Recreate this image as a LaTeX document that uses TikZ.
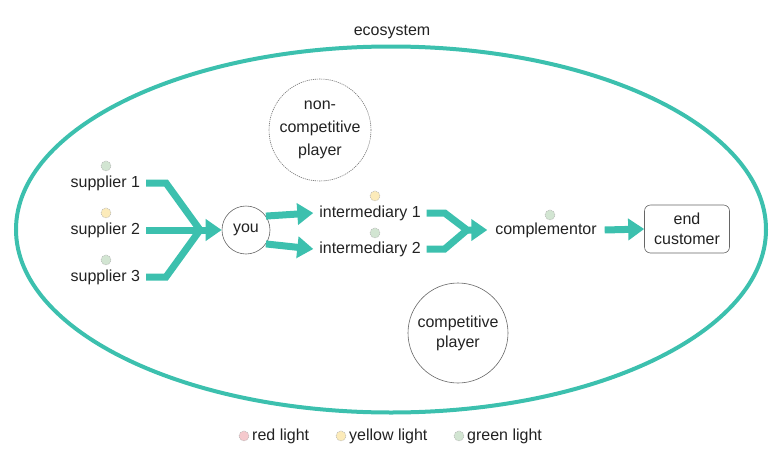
\documentclass[tikz,border=0pt]{standalone}
\usepackage{fontspec}
\setmainfont{Liberation Sans}
\usepackage{xcolor}
\definecolor{ecoteal}{HTML}{3CC0AE}
\definecolor{ecotext}{HTML}{222222}
\definecolor{lightred}{HTML}{F5C9CD}
\definecolor{lightyellow}{HTML}{FCEBBA}
\definecolor{lightgreen}{HTML}{D2E5D2}
\usetikzlibrary{arrows.meta,positioning,calc,shapes.geometric}

\begin{document}
\begin{tikzpicture}[
  x=1pt, y=-1pt,
  font=\fontsize{16}{20}\selectfont, text=ecotext,
  eco/.style={ellipse, draw=ecoteal, line width=4pt, minimum width=750pt, minimum height=366pt},
  actor/.style={inner sep=2pt, outer sep=4pt},
  flow/.style={line width=7pt, ecoteal},
  flowtip/.style={flow, -{Triangle[length=16pt, width=21pt]}},
  player/.style={circle, draw=black!60, line width=0.6pt, align=center, inner sep=0pt, minimum size=102pt},
  light/.style={circle, draw=black!30, dash pattern=on 1pt off 0.8pt, line width=0.5pt, inner sep=0pt, minimum size=10pt},
  endbox/.style={rectangle, rounded corners=6pt, draw=black!60, line width=0.6pt, align=center,
                 minimum width=85pt, minimum height=48pt, inner sep=2pt},
]
\useasboundingbox (0,0) rectangle (780,464);

% ---------- the ecosystem itself
\node[eco] (eco) at (391,229.5) {};
\node (ecolbl) at (392,32) {ecosystem};

% ---------- the two other players
\node[player, dash pattern=on 1.2pt off 0.9pt, draw=black!55] (noncomp) at (320,130) {non-\\[3pt]competitive\\[3pt]player};
\node[player, minimum size=100pt] (compet) at (458,333) {competitive\\player};

% ---------- suppliers, each with its light
\foreach \k/\y/\c in {1/183/lightgreen,2/230/lightyellow,3/277/lightgreen} {
  \node[actor, anchor=east] (s\k) at (146,\y) {supplier \k};
  \node[light, fill=\c] (l\k) at (106,\y-17) {};
}
\node[circle, draw=black!60, line width=0.6pt, minimum size=48pt, inner sep=0pt] (you) at (246,230) {you};

% ---------- intermediaries and further down the chain
\node[actor] (im1) at (370,213) {intermediary 1};
\node[light, fill=lightyellow] (li1) at (375,196) {};
\node[actor] (im2) at (370,249) {intermediary 2};
\node[light, fill=lightgreen] (li2) at (375,233) {};
\node[actor, outer sep=6pt] (comp) at (546,230) {complementor};
\node[light, fill=lightgreen] (lc) at (550,215) {};
\node[endbox] (endc) at (687,229) {end\\customer};

% ---------- the flows
\coordinate (m1) at (200,230);
\coordinate (m2) at (467,230);
\draw[flowtip] (s2.east) -- (you.west);
\draw[flow] (s1.east) -- ++(20,0) -- (m1);
\draw[flow] (s3.east) -- ++(20,0) -- (m1);
\draw[flowtip] (you.35) -- (im1.west);
\draw[flowtip] (you.-35) -- (im2.west);
\draw[flowtip] (im1.east) -- ++(18,0) -- (m2) -- (comp.west);
\draw[flow] (im2.east) -- ++(18,0) -- (m2);
\draw[flowtip] (comp.east) -- (endc.west);

% ---------- legend
\foreach \n/\x/\c/\t in {r/244/lightred/red light,y/341/lightyellow/yellow light,g/459/lightgreen/green light} {
  \node[light, fill=\c] (k\n) at (\x,436) {};
  \node[inner sep=0pt, anchor=west] (kt\n) at (\x+8,436) {\t};
}
\end{tikzpicture}
\end{document}
